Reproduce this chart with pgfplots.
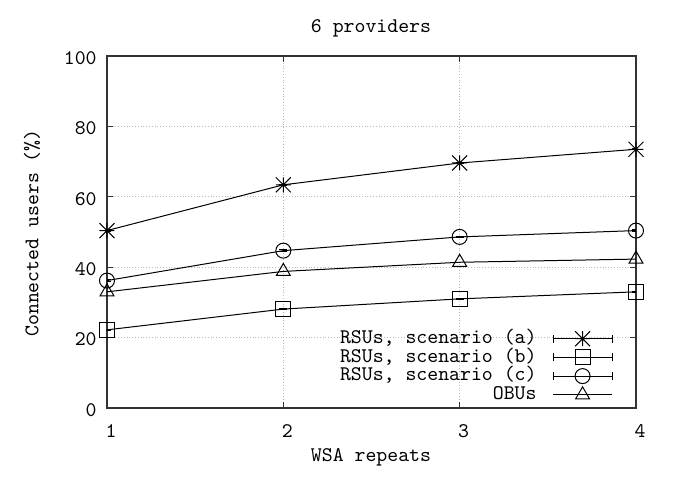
\documentclass[border=0pt]{standalone}
\usepackage{pgfplots}
\pgfplotsset{compat=1.18}

\pgfdeclareplotmark{gpstar}{%
 \pgfpathmoveto{\pgfqpoint{-\pgfplotmarksize}{0pt}}\pgfpathlineto{\pgfqpoint{\pgfplotmarksize}{0pt}}%
 \pgfpathmoveto{\pgfqpoint{0pt}{-\pgfplotmarksize}}\pgfpathlineto{\pgfqpoint{0pt}{\pgfplotmarksize}}%
 \pgfpathmoveto{\pgfqpoint{-\pgfplotmarksize}{-\pgfplotmarksize}}\pgfpathlineto{\pgfqpoint{\pgfplotmarksize}{\pgfplotmarksize}}%
 \pgfpathmoveto{\pgfqpoint{-\pgfplotmarksize}{\pgfplotmarksize}}\pgfpathlineto{\pgfqpoint{\pgfplotmarksize}{-\pgfplotmarksize}}%
 \pgfusepathqstroke}

\pgfplotsset{
  errlegend/.style={legend image code/.code={%
    \draw[mark=none,##1] (0pt,0pt) -- (29.5pt,0pt);
    \draw[mark=none,solid,black,line width=0.5pt] (0pt,-2pt) -- (0pt,2pt) (29.5pt,-2pt) -- (29.5pt,2pt);
    \draw[only marks,##1] plot coordinates {(14.75pt,0pt)};}},
  linelegend/.style={legend image code/.code={%
    \draw[mark=none,##1] (0pt,0pt) -- (29.5pt,0pt);
    \draw[only marks,##1] plot coordinates {(14.75pt,0pt)};}},
  myerr/.style={error bars/.cd, y dir=both, y explicit,
    error bar style={black, line width=0.5pt},
    error mark options={black, mark size=2pt, rotate=90, line width=0.5pt}},
}

\begin{document}
\begin{tikzpicture}[font=\ttfamily\fontsize{10.4}{12}\selectfont, x=1pt, y=1pt]
\path[use as bounding box] (0,0) rectangle (342.5,245);
\begin{axis}[
  at={(53.5pt,41pt)}, anchor=south west,
  scale only axis, width=264.5pt, height=176pt,
  xmin=1, xmax=4, ymin=0, ymax=100,
  xtick={1,2,3,4}, ytick={0,20,40,60,80,100},
  grid=major,
  grid style={densely dotted, gray!55, line width=0.4pt},
  axis line style={line width=0.6pt, black!80},
  major tick length=3pt,
  tick style={black!80, line width=0.5pt},
  /pgf/number format/assume math mode=true,
  yticklabel style={inner sep=0pt, xshift=-5pt, yshift=-1pt},
  xticklabel style={inner sep=0pt, yshift=-8pt, xshift=2pt},
  legend cell align=right,
  legend plot pos=right,
  legend style={draw=none, fill=none, inner sep=0pt, row sep=0pt, column sep=8pt,
    at={(0.9565,0.2245)}, anchor=north east,
    nodes={inner sep=0pt, text height=7pt, text depth=2.35pt}},
]
\addplot[black, line width=0.5pt, mark=gpstar, mark size=3.75pt, mark options={solid}, errlegend, myerr]
  coordinates {(1,50.4) +- (0,0.2) (2,63.4) +- (0,0.2) (3,69.6) +- (0,0.2) (4,73.5) +- (0,0.2)};
\addlegendentry{RSUs, scenario (a)}
\addplot[black, line width=0.5pt, mark=square, mark size=3.75pt, mark options={solid}, errlegend, myerr]
  coordinates {(1,22.2) +- (0,0.2) (2,28.1) +- (0,0.2) (3,31.0) +- (0,0.2) (4,33.0) +- (0,0.2)};
\addlegendentry{RSUs, scenario (b)}
\addplot[black, line width=0.5pt, mark=o, mark size=3.75pt, mark options={solid}, errlegend, myerr]
  coordinates {(1,36.2) +- (0,0.2) (2,44.7) +- (0,0.2) (3,48.6) +- (0,0.2) (4,50.4) +- (0,0.2)};
\addlegendentry{RSUs, scenario (c)}
\addplot[black, line width=0.5pt, mark=triangle, mark size=4pt, mark options={solid}, linelegend]
  coordinates {(1,33.0) (2,38.8) (3,41.4) (4,42.3)};
\addlegendentry{OBUs}
\end{axis}
\node at (185.5,231) {6 providers};
\node at (185.5,16.5) {WSA repeats};
\node[rotate=90] at (16,128.5) {Connected users (\%)};
\end{tikzpicture}
\end{document}
